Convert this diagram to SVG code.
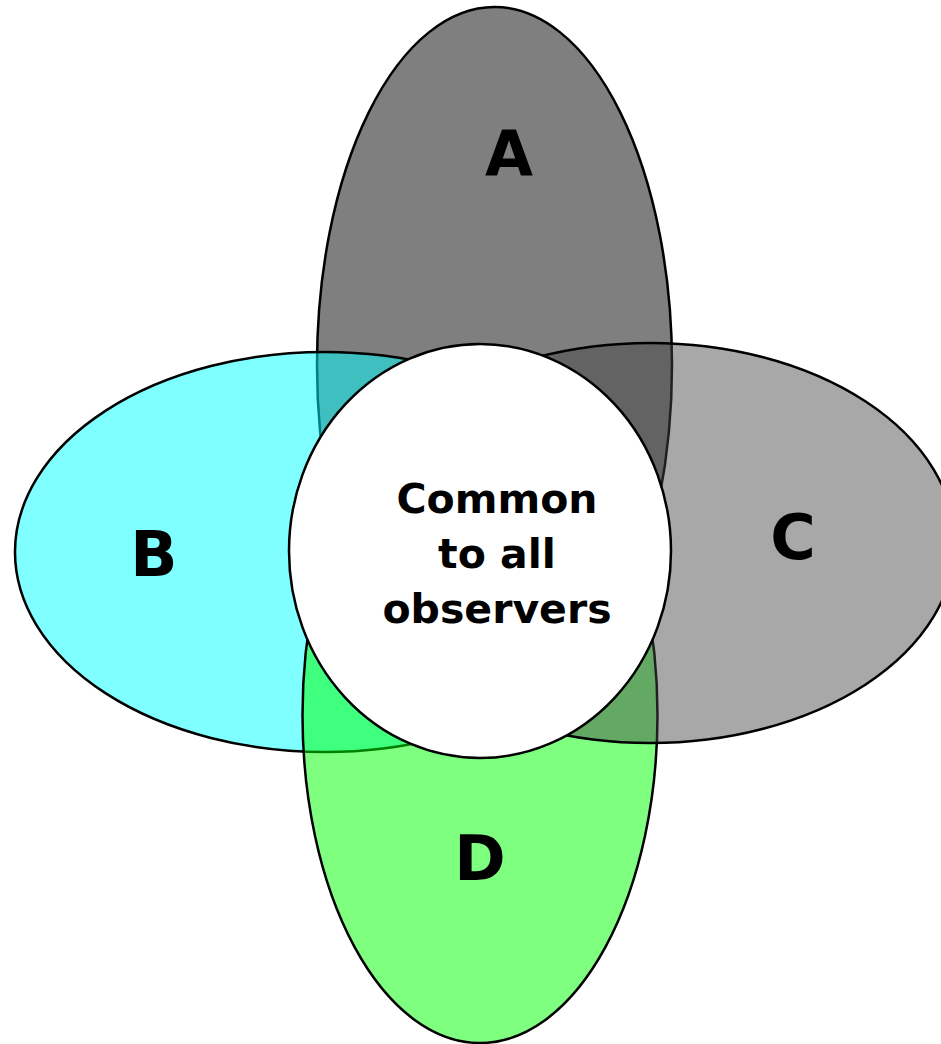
<svg xmlns="http://www.w3.org/2000/svg" width="941" height="1044" viewBox="0 0 941 1044">
<style>
.set{stroke:#000;stroke-width:2.5}
.lbl{font-family:"DejaVu Sans",sans-serif;font-weight:bold;fill:#000;text-anchor:middle}
.big{font-size:62px}
.mid{font-size:41px}
</style>
<rect width="941" height="1044" fill="#fff"/>
<g id="A"><ellipse class="set" cx="494.5" cy="365" rx="177.5" ry="358" fill="rgba(0,0,0,0.5)"/></g>
<g id="B"><ellipse class="set" cx="325" cy="552" rx="310" ry="200" fill="rgba(0,255,255,0.5)"/></g>
<g id="D"><ellipse class="set" cx="480" cy="715" rx="177.5" ry="328" fill="rgba(0,255,0,0.5)"/></g>
<g id="C"><ellipse class="set" cx="650" cy="543" rx="305" ry="200" fill="rgba(68,68,68,0.465)"/></g>
<g id="common"><ellipse class="set" cx="480" cy="551" rx="191" ry="207" fill="#fff"/>
<text class="lbl mid" x="497" y="513">Common</text>
<text class="lbl mid" x="497" y="568">to all</text>
<text class="lbl mid" x="497" y="623">observers</text></g>
<g id="labels">
<text class="lbl big" x="509" y="175">A</text>
<text class="lbl big" x="154" y="576">B</text>
<text class="lbl big" x="793" y="559">C</text>
<text class="lbl big" x="480" y="880">D</text>
</g>
<g id="connectors"/>
</svg>
